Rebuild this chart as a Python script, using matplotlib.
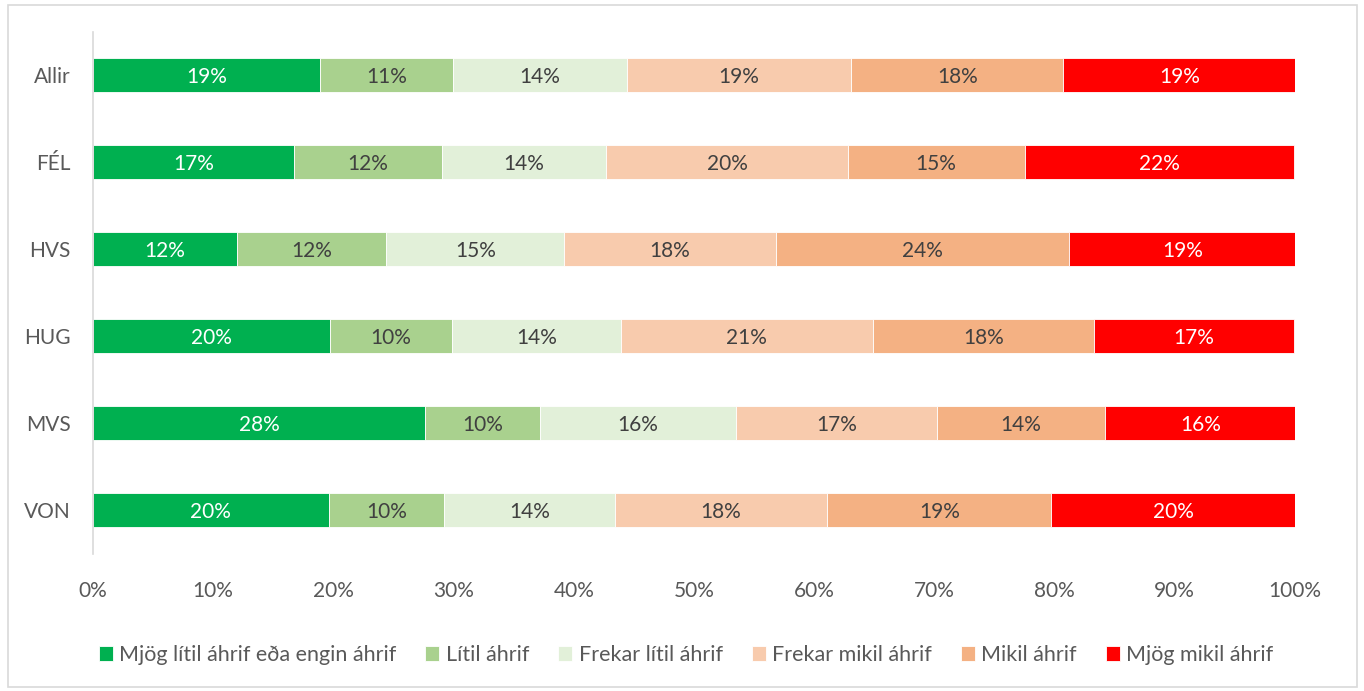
import matplotlib
matplotlib.use("Agg")
import matplotlib.pyplot as plt
from matplotlib.patches import Rectangle
import numpy as np

plt.rcParams['font.family'] = ['Lato', 'DejaVu Sans']

categories = ["Allir", "FÉL", "HVS", "HUG", "MVS", "VON"]
series_names = ["Mjög lítil áhrif eða engin áhrif", "Lítil áhrif", "Frekar lítil áhrif",
                "Frekar mikil áhrif", "Mikil áhrif", "Mjög mikil áhrif"]
mjog_litil = [18.9, 16.7, 12.0, 19.7, 27.6, 19.6]
litil = [11.05, 12.3, 12.4, 10.2, 9.6, 9.6]
frekar_litil = [14.45, 13.7, 14.8, 14.0, 16.3, 14.2]
frekar_mikil = [18.7, 20.1, 17.6, 21.0, 16.7, 17.7]
mikil = [17.6, 14.7, 24.4, 18.4, 14.0, 18.6]
mjog_mikil = [19.4, 22.4, 18.9, 16.6, 15.9, 20.3]
xticks = [0, 10, 20, 30, 40, 50, 60, 70, 80, 90, 100]

colors = ["#00B050", "#A9D18E", "#E2F0D9", "#F8CBAD", "#F4B183", "#FF0000"]
label_colors = ["white", "#404040", "#404040", "#404040", "#404040", "white"]
grey = "#595959"

fig = plt.figure(figsize=(13.64, 6.91), dpi=100)
ax = fig.add_axes([93/1364, 1-553.5/691, (1295-93)/1364, (553.5-31.5)/691])

data = [mjog_litil, litil, frekar_litil, frekar_mikil, mikil, mjog_mikil]
y = np.arange(len(categories))
left = np.zeros(len(categories))
for vals, name, c, lc in zip(data, series_names, colors, label_colors):
    vals = np.array(vals)
    ax.barh(y, vals, left=left, height=0.40, color=c, edgecolor="white",
            linewidth=0.6, label=name)
    for yi, l, v in zip(y, left, vals):
        ax.text(l + v/2, yi + 0.02, f"{v:.0f}%", ha="center", va="center",
                color=lc, fontsize=15)
    left += vals

ax.set_xlim(0, 100)
ax.set_ylim(len(categories) - 0.5, -0.5)
ax.set_yticks(y)
ax.set_yticklabels(categories, fontsize=15, color=grey)
ax.set_xticks(xticks)
ax.set_xticklabels([f"{t}%" for t in xticks], fontsize=15, color=grey)
ax.tick_params(axis="both", length=0)
ax.tick_params(axis="y", pad=23)
ax.tick_params(axis="x", pad=20)
for lbl in ax.get_yticklabels():
    lbl.set_x(lbl.get_position()[0])
ax.yaxis.set_tick_params(pad=22)
for s in ["top", "right", "bottom"]:
    ax.spines[s].set_visible(False)
ax.spines["left"].set_color("#D9D9D9")
ax.spines["left"].set_linewidth(1.2)
ax.tick_params(axis="y", pad=16)

handles, labels = ax.get_legend_handles_labels()
leg = fig.legend(handles, labels, loc="center", bbox_to_anchor=(0.503, 1-655/691),
                 ncol=6, frameon=False, fontsize=15.5, handlelength=0.65,
                 handleheight=0.65, handletextpad=0.3, columnspacing=1.35)
for t in leg.get_texts():
    t.set_color(grey)

fig.patches.append(Rectangle((8/1364, 4/691), 1349/1364, 682/691, transform=fig.transFigure,
                             fill=False, edgecolor="#D9D9D9", linewidth=1.2))

fig.savefig("out.png", dpi=100)
